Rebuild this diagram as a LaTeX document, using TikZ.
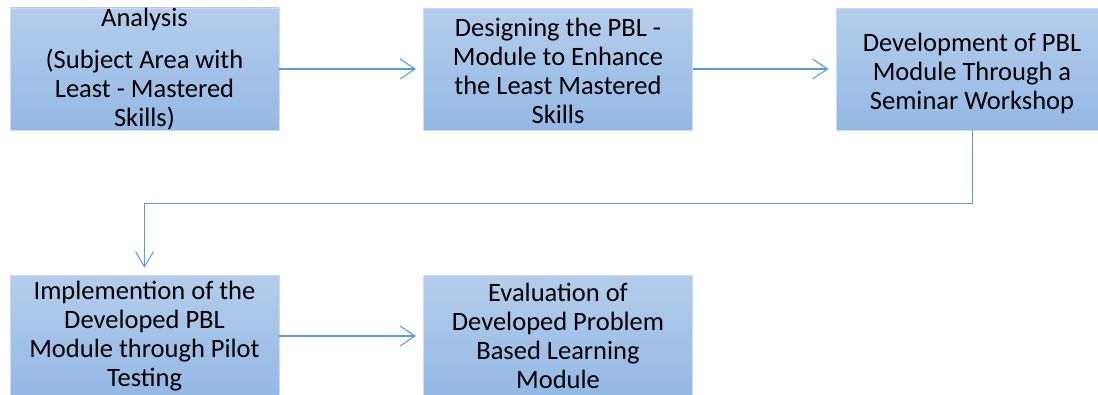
\documentclass[tikz,border=0pt]{standalone}
\usepackage{fontspec}
\setmainfont{Carlito}
\usetikzlibrary{arrows.meta}
\definecolor{boxtop}{RGB}{181,205,236}
\definecolor{boxbot}{RGB}{148,184,228}
\definecolor{boxedge}{RGB}{204,220,242}
\definecolor{flow}{RGB}{91,155,213}
\tikzset{
  stagebox/.style={rectangle, top color=boxtop, bottom color=boxbot, draw=boxedge,
    line width=0.8pt, minimum width=269pt, minimum height=122pt, inner sep=0pt,
    align=center, text=black, font=\fontsize{26.5}{29}\selectfont},
  flowarrow/.style={draw=flow, line width=1.4pt,
    -{Straight Barb[length=15pt,width=20pt,line width=1.1pt]}},
  elbowarrow/.style={draw=flow, line width=1pt,
    -{Straight Barb[length=15pt,width=18pt,line width=1pt]}}
}
\begin{document}
\begin{tikzpicture}[x=1pt,y=-1pt]
  \useasboundingbox (0,0) rectangle (1098,394);
  \clip (0,0) rectangle (1098,394);
  % top row
  \node[stagebox] (b1) at (144.5,69) {Analysis\\[13pt](Subject Area with\\Least - Mastered\\Skills)};
  \node[stagebox] (b2) at (558,69) {\rule{0pt}{23pt}Designing the PBL -\\Module to Enhance\\the Least Mastered\\Skills};
  \node[stagebox, minimum width=272pt] (b3) at (972,69) {\rule{0pt}{28pt}Development of PBL\\Module Through a\\Seminar Workshop};
  % bottom row
  \node[stagebox] (b4) at (144.5,336) {Implemention of the\\Developed PBL\\Module through Pilot\\Testing};
  \node[stagebox] (b5) at (558,336) {Evaluation of\\Developed Problem\\Based Learning\\Module};
  % connectors
  \draw[flowarrow, shorten >=7pt] (b1.east) -- (b2.west);
  \draw[flowarrow, shorten >=7pt] (b2.east) -- (b3.west);
  \draw[elbowarrow, shorten >=7pt] (b3.south) -- ++(0,73) -| (b4.north);
  \draw[flowarrow, shorten >=7pt] (b4.east) -- (b5.west);
\end{tikzpicture}
\end{document}
